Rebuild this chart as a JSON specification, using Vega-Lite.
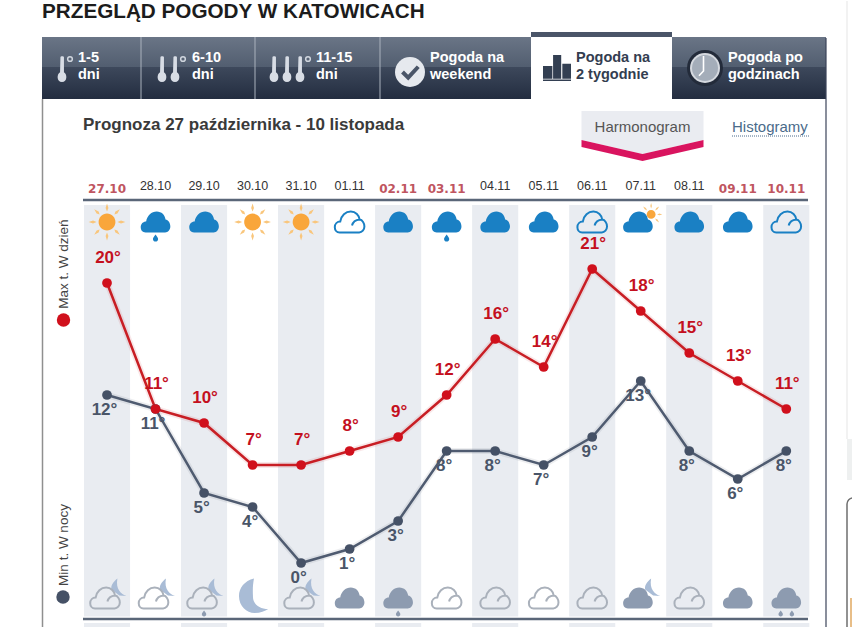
{"$schema":"https://vega.github.io/schema/vega-lite/v6.json","width":852,"height":627,"padding":0,"autosize":{"type":"fit","contains":"padding"},"background":"#ffffff","view":{"stroke":null},
"data":{"values":[{"chrome":1}]},
"datasets":{
"days":[{"date":"27.10","weekend":true},{"date":"28.10","weekend":false},{"date":"29.10","weekend":false},{"date":"30.10","weekend":false},{"date":"31.10","weekend":false},{"date":"01.11","weekend":false},{"date":"02.11","weekend":true},{"date":"03.11","weekend":true},{"date":"04.11","weekend":false},{"date":"05.11","weekend":false},{"date":"06.11","weekend":false},{"date":"07.11","weekend":false},{"date":"08.11","weekend":false},{"date":"09.11","weekend":true},{"date":"10.11","weekend":true}],
"shaded":[{"date":"27.10"},{"date":"29.10"},{"date":"31.10"},{"date":"02.11"},{"date":"04.11"},{"date":"06.11"},{"date":"08.11"},{"date":"10.11"}],
"temps":[{"date":"27.10","series":"Min t. W nocy","temp":12},{"date":"28.10","series":"Min t. W nocy","temp":11},{"date":"29.10","series":"Min t. W nocy","temp":5},{"date":"30.10","series":"Min t. W nocy","temp":4},{"date":"31.10","series":"Min t. W nocy","temp":0},{"date":"01.11","series":"Min t. W nocy","temp":1},{"date":"02.11","series":"Min t. W nocy","temp":3},{"date":"03.11","series":"Min t. W nocy","temp":8},{"date":"04.11","series":"Min t. W nocy","temp":8},{"date":"05.11","series":"Min t. W nocy","temp":7},{"date":"06.11","series":"Min t. W nocy","temp":9},{"date":"07.11","series":"Min t. W nocy","temp":13},{"date":"08.11","series":"Min t. W nocy","temp":8},{"date":"09.11","series":"Min t. W nocy","temp":6},{"date":"10.11","series":"Min t. W nocy","temp":8},
{"date":"27.10","series":"Max t. W dzień","temp":20},{"date":"28.10","series":"Max t. W dzień","temp":11},{"date":"29.10","series":"Max t. W dzień","temp":10},{"date":"30.10","series":"Max t. W dzień","temp":7},{"date":"31.10","series":"Max t. W dzień","temp":7},{"date":"01.11","series":"Max t. W dzień","temp":8},{"date":"02.11","series":"Max t. W dzień","temp":9},{"date":"03.11","series":"Max t. W dzień","temp":12},{"date":"04.11","series":"Max t. W dzień","temp":16},{"date":"05.11","series":"Max t. W dzień","temp":14},{"date":"06.11","series":"Max t. W dzień","temp":21},{"date":"07.11","series":"Max t. W dzień","temp":18},{"date":"08.11","series":"Max t. W dzień","temp":15},{"date":"09.11","series":"Max t. W dzień","temp":13},{"date":"10.11","series":"Max t. W dzień","temp":11}],
"icons":[
{"date":"27.10","panel":"dzień","part":"sun-rays"},{"date":"27.10","panel":"dzień","part":"sun-core"},
{"date":"28.10","panel":"dzień","part":"cloud"},{"date":"28.10","panel":"dzień","part":"drop"},
{"date":"29.10","panel":"dzień","part":"cloud"},
{"date":"30.10","panel":"dzień","part":"sun-rays"},{"date":"30.10","panel":"dzień","part":"sun-core"},
{"date":"31.10","panel":"dzień","part":"sun-rays"},{"date":"31.10","panel":"dzień","part":"sun-core"},
{"date":"02.11","panel":"dzień","part":"cloud"},
{"date":"03.11","panel":"dzień","part":"cloud"},{"date":"03.11","panel":"dzień","part":"drop"},
{"date":"04.11","panel":"dzień","part":"cloud"},{"date":"05.11","panel":"dzień","part":"cloud"},
{"date":"07.11","panel":"dzień","part":"small-rays"},{"date":"07.11","panel":"dzień","part":"small-core"},{"date":"07.11","panel":"dzień","part":"cloud-left"},
{"date":"08.11","panel":"dzień","part":"cloud"},{"date":"09.11","panel":"dzień","part":"cloud"},
{"date":"27.10","panel":"noc","part":"moon-small"},{"date":"28.10","panel":"noc","part":"moon-small"},
{"date":"29.10","panel":"noc","part":"moon-small"},{"date":"29.10","panel":"noc","part":"n-drop"},
{"date":"30.10","panel":"noc","part":"moon-big"},{"date":"31.10","panel":"noc","part":"moon-small"},
{"date":"01.11","panel":"noc","part":"n-cloud"},
{"date":"02.11","panel":"noc","part":"n-cloud"},{"date":"02.11","panel":"noc","part":"n-drop"},
{"date":"07.11","panel":"noc","part":"moon-small"},{"date":"07.11","panel":"noc","part":"n-cloud-left"},
{"date":"09.11","panel":"noc","part":"n-cloud"},
{"date":"10.11","panel":"noc","part":"n-cloud"},{"date":"10.11","panel":"noc","part":"n-drops"}],
"outlines":[
{"date":"01.11","panel":"dzień","part":"line"},{"date":"06.11","panel":"dzień","part":"line"},{"date":"10.11","panel":"dzień","part":"line"},
{"date":"27.10","panel":"noc","part":"n-line-left"},{"date":"28.10","panel":"noc","part":"n-line-left"},{"date":"29.10","panel":"noc","part":"n-line-left"},{"date":"31.10","panel":"noc","part":"n-line-left"},
{"date":"03.11","panel":"noc","part":"n-line"},{"date":"04.11","panel":"noc","part":"n-line"},{"date":"05.11","panel":"noc","part":"n-line"},{"date":"06.11","panel":"noc","part":"n-line"},{"date":"08.11","panel":"noc","part":"n-line"}]
},
"resolve":{"scale":{"y":"independent","shape":"independent","fill":"independent","stroke":"independent"}},
"layer":[
{"mark":{"type":"text","align":"left","font":"Liberation Sans","fontWeight":"bold","fontSize":20.7,"fill":"#1c1c1c"},"encoding":{"x":{"value":42},"y":{"value":11},"text":{"value":"PRZEGLĄD POGODY W KATOWICACH"}}},
{"mark":{"type":"rect","fill":{"gradient":"linear","x1":0,"y1":0,"x2":0,"y2":1,"stops":[{"offset":0,"color":"#6a7586"},{"offset":0.48,"color":"#525e70"},{"offset":0.49,"color":"#3d485b"},{"offset":1,"color":"#232d40"}]}},"encoding":{"x":{"value":42},"x2":{"value":826},"y":{"value":36},"y2":{"value":98}}},
{"mark":{"type":"rule","stroke":"#aab2bd","strokeWidth":1},"encoding":{"x":{"value":141},"y":{"value":36},"y2":{"value":98}}},
{"mark":{"type":"rule","stroke":"#aab2bd","strokeWidth":1},"encoding":{"x":{"value":255},"y":{"value":36},"y2":{"value":98}}},
{"mark":{"type":"rule","stroke":"#aab2bd","strokeWidth":1},"encoding":{"x":{"value":380},"y":{"value":36},"y2":{"value":98}}},
{"mark":{"type":"rect","fill":"#ffffff"},"encoding":{"x":{"value":531},"x2":{"value":672},"y":{"value":36},"y2":{"value":99}}},
{"mark":{"type":"rect","fill":"#4a5568"},"encoding":{"x":{"value":531},"x2":{"value":672},"y":{"value":31},"y2":{"value":36}}},
{"mark":{"type":"rule","stroke":"#8f8f8f","strokeWidth":1.5},"encoding":{"x":{"value":42.5},"y":{"value":98},"y2":{"value":627}}},
{"mark":{"type":"rule","stroke":"#3b4459","strokeWidth":1.2},"encoding":{"x":{"value":826},"y":{"value":37},"y2":{"value":627}}},
{"mark":{"type":"rule","stroke":"#eeeeee","strokeWidth":1.5},"encoding":{"x":{"value":847},"y":{"value":0},"y2":{"value":438}}},
{"mark":{"type":"rect","fill":"#eef0f0"},"encoding":{"x":{"value":847},"x2":{"value":852},"y":{"value":438},"y2":{"value":479}}},
{"mark":{"type":"rect","fill":"#ffffff","stroke":"#6f6f6f","strokeWidth":1.5,"cornerRadius":6},"encoding":{"x":{"value":847},"x2":{"value":870},"y":{"value":497},"y2":{"value":650}}},
{"mark":{"type":"rule","stroke":"#e0a860","strokeWidth":1.5},"encoding":{"x":{"value":851},"y":{"value":597},"y2":{"value":627}}},

{"mark":{"type":"point","filled":true,"fill":"#d8dde5","stroke":null,"size":676,"opacity":1,"shape":"M-.12,-.9C-.12,-1 .15,-1 .15,-.9L.15,.25C.42,.4 .42,1 0,1C-.42,1 -.42,.4 -.15,.25Z"},"encoding":{"x":{"value":62},"y":{"value":68}}},
{"mark":{"type":"point","filled":true,"fill":"#d8dde5","stroke":null,"size":676,"opacity":1,"shape":"M-.12,-.9C-.12,-1 .15,-1 .15,-.9L.15,.25C.42,.4 .42,1 0,1C-.42,1 -.42,.4 -.15,.25Z"},"encoding":{"x":{"value":162},"y":{"value":68}}},
{"mark":{"type":"point","filled":true,"fill":"#d8dde5","stroke":null,"size":676,"opacity":1,"shape":"M-.12,-.9C-.12,-1 .15,-1 .15,-.9L.15,.25C.42,.4 .42,1 0,1C-.42,1 -.42,.4 -.15,.25Z"},"encoding":{"x":{"value":175},"y":{"value":68}}},
{"mark":{"type":"point","filled":true,"fill":"#d8dde5","stroke":null,"size":676,"opacity":1,"shape":"M-.12,-.9C-.12,-1 .15,-1 .15,-.9L.15,.25C.42,.4 .42,1 0,1C-.42,1 -.42,.4 -.15,.25Z"},"encoding":{"x":{"value":274},"y":{"value":68}}},
{"mark":{"type":"point","filled":true,"fill":"#d8dde5","stroke":null,"size":676,"opacity":1,"shape":"M-.12,-.9C-.12,-1 .15,-1 .15,-.9L.15,.25C.42,.4 .42,1 0,1C-.42,1 -.42,.4 -.15,.25Z"},"encoding":{"x":{"value":287},"y":{"value":68}}},
{"mark":{"type":"point","filled":true,"fill":"#d8dde5","stroke":null,"size":676,"opacity":1,"shape":"M-.12,-.9C-.12,-1 .15,-1 .15,-.9L.15,.25C.42,.4 .42,1 0,1C-.42,1 -.42,.4 -.15,.25Z"},"encoding":{"x":{"value":300},"y":{"value":68}}},
{"mark":{"type":"point","filled":false,"stroke":"#cfd5dd","strokeWidth":1.5,"size":22,"opacity":1,"shape":"circle"},"encoding":{"x":{"value":70},"y":{"value":58}}},
{"mark":{"type":"point","filled":false,"stroke":"#cfd5dd","strokeWidth":1.5,"size":22,"opacity":1,"shape":"circle"},"encoding":{"x":{"value":183},"y":{"value":58}}},
{"mark":{"type":"point","filled":false,"stroke":"#cfd5dd","strokeWidth":1.5,"size":22,"opacity":1,"shape":"circle"},"encoding":{"x":{"value":308},"y":{"value":58}}},
{"mark":{"type":"point","filled":true,"fill":"#e6e9ee","stroke":null,"size":900,"opacity":1,"shape":"circle"},"encoding":{"x":{"value":410},"y":{"value":71}}},
{"mark":{"type":"point","filled":false,"stroke":"#4a5568","strokeWidth":4,"size":900,"opacity":1,"shape":"M-.5,0L-.12,.38L.55,-.35"},"encoding":{"x":{"value":410},"y":{"value":71}}},
{"mark":{"type":"point","filled":true,"fill":"#333f52","stroke":null,"size":784,"opacity":1,"shape":"M-1,-.14L-.33,-.14L-.33,.76L-1,.76Z M-.28,-.93L.3,-.93L.3,.76L-.28,.76Z M.38,-.3L1,-.3L1,.76L.38,.76Z M-1,.82L1,.82L1,.93L-1,.93Z"},"encoding":{"x":{"value":557},"y":{"value":67}}},
{"mark":{"type":"point","filled":true,"fill":"#232b3a","stroke":null,"size":1296,"opacity":1,"shape":"circle"},"encoding":{"x":{"value":705},"y":{"value":67}}},
{"mark":{"type":"point","filled":true,"fill":"#d5d9df","stroke":null,"size":900,"opacity":1,"shape":"circle"},"encoding":{"x":{"value":705},"y":{"value":67}}},
{"mark":{"type":"point","filled":true,"fill":"#a4adb9","stroke":null,"size":676,"opacity":1,"shape":"circle"},"encoding":{"x":{"value":705},"y":{"value":67}}},
{"mark":{"type":"point","filled":false,"stroke":"#ffffff","strokeWidth":1.6,"size":900,"opacity":1,"shape":"M-.1,-.8L-.1,.2L-.4,.52"},"encoding":{"x":{"value":705},"y":{"value":67}}},

{"mark":{"type":"text","align":"left","font":"Liberation Sans","fontWeight":"bold","fontSize":14.5,"fill":"#ffffff","lineBreak":"\n","lineHeight":17},"encoding":{"x":{"value":78},"y":{"value":57},"text":{"value":"1-5\ndni"}}},
{"mark":{"type":"text","align":"left","font":"Liberation Sans","fontWeight":"bold","fontSize":14.5,"fill":"#ffffff","lineBreak":"\n","lineHeight":17},"encoding":{"x":{"value":192},"y":{"value":57},"text":{"value":"6-10\ndni"}}},
{"mark":{"type":"text","align":"left","font":"Liberation Sans","fontWeight":"bold","fontSize":14.5,"fill":"#ffffff","lineBreak":"\n","lineHeight":17},"encoding":{"x":{"value":316},"y":{"value":57},"text":{"value":"11-15\ndni"}}},
{"mark":{"type":"text","align":"left","font":"Liberation Sans","fontWeight":"bold","fontSize":14.5,"fill":"#ffffff","lineBreak":"\n","lineHeight":17},"encoding":{"x":{"value":430},"y":{"value":57},"text":{"value":"Pogoda na\nweekend"}}},
{"mark":{"type":"text","align":"left","font":"Liberation Sans","fontWeight":"bold","fontSize":14.5,"fill":"#333d50","lineBreak":"\n","lineHeight":17},"encoding":{"x":{"value":576},"y":{"value":57},"text":{"value":"Pogoda na\n2 tygodnie"}}},
{"mark":{"type":"text","align":"left","font":"Liberation Sans","fontWeight":"bold","fontSize":14.5,"fill":"#ffffff","lineBreak":"\n","lineHeight":17},"encoding":{"x":{"value":728},"y":{"value":57},"text":{"value":"Pogoda po\ngodzinach"}}},

{"mark":{"type":"text","align":"left","font":"Liberation Sans","fontWeight":"bold","fontSize":17,"fill":"#3a3a3a"},"encoding":{"x":{"value":83},"y":{"value":124},"text":{"value":"Prognoza 27 października - 10 listopada"}}},
{"mark":{"type":"point","filled":true,"fill":"#eaecf1","stroke":null,"size":14884,"opacity":1,"shape":"M-1,-.41L1,-.41L1,.066L0,.295L-1,.066Z"},"encoding":{"x":{"value":642.5},"y":{"value":135}}},
{"mark":{"type":"point","filled":true,"fill":"#d9145f","stroke":null,"size":14884,"opacity":1,"shape":"M-1,.066L0,.295L1,.066L1,.18L0,.41L-1,.18Z"},"encoding":{"x":{"value":642.5},"y":{"value":135}}},
{"mark":{"type":"text","font":"Liberation Sans","fontSize":15,"fill":"#555555"},"encoding":{"x":{"value":642.5},"y":{"value":126},"text":{"value":"Harmonogram"}}},
{"mark":{"type":"text","align":"left","font":"Liberation Sans","fontSize":15,"fill":"#4a6b8a"},"encoding":{"x":{"value":732},"y":{"value":126},"text":{"value":"Histogramy"}}},
{"mark":{"type":"rule","stroke":"#4a6b8a","strokeWidth":1,"strokeDash":[1,1]},"encoding":{"x":{"value":732},"x2":{"value":809},"y":{"value":135}}},

{"data":{"name":"shaded"},"mark":{"type":"rect","fill":"#e9ecf1"},"encoding":{"x":{"field":"date","type":"nominal","axis":null,"scale":{"type":"band","domain":["27.10","28.10","29.10","30.10","31.10","01.11","02.11","03.11","04.11","05.11","06.11","07.11","08.11","09.11","10.11"],"range":[82.75,810.55],"paddingInner":0.05,"paddingOuter":0.025}},"y":{"value":204},"y2":{"value":615.5}}},
{"data":{"name":"shaded"},"mark":{"type":"rect","fill":"#e9ecf1"},"encoding":{"x":{"field":"date","type":"nominal","axis":null},"y":{"value":622},"y2":{"value":627}}},
{"mark":{"type":"rule","stroke":"#5a6678","strokeWidth":2.5},"encoding":{"x":{"value":83},"x2":{"value":808},"y":{"value":199}}},
{"mark":{"type":"rule","stroke":"#5a6678","strokeWidth":2.5},"encoding":{"x":{"value":83},"x2":{"value":808},"y":{"value":618}}},

{"data":{"name":"days"},"transform":[{"filter":"!datum.weekend"}],"mark":{"type":"text","font":"Liberation Sans","fontSize":12.5,"fill":"#333333"},"encoding":{"x":{"field":"date","type":"nominal","axis":null},"y":{"value":185},"text":{"field":"date"}}},
{"data":{"name":"days"},"transform":[{"filter":"datum.weekend"}],"mark":{"type":"text","font":"DejaVu Sans","fontWeight":"bold","fontSize":12,"fill":"#bf5560"},"encoding":{"x":{"field":"date","type":"nominal","axis":null},"y":{"value":187.5},"text":{"field":"date"}}},

{"data":{"name":"icons"},"mark":{"type":"point","filled":true,"size":1600,"opacity":1,"strokeWidth":0},"encoding":{
"x":{"field":"date","type":"nominal","axis":null},
"y":{"field":"panel","type":"nominal","axis":null,"scale":{"type":"point","domain":["dzień","noc"],"range":[221,597],"padding":0}},
"shape":{"field":"part","type":"nominal","legend":null,"scale":{"domain":["sun-rays","sun-core","cloud","cloud-left","drop","small-rays","small-core","n-cloud","n-cloud-left","n-drop","n-drops","moon-small","moon-big"],"range":[
"M0,-.92L.07,-.7L0,-.52L-.07,-.7Z M.92,0L.7,.07L.52,0L.7,-.07Z M0,.92L.07,.7L0,.52L-.07,.7Z M-.92,0L-.7,.07L-.52,0L-.7,-.07Z M.64,-.64L.52,-.42L.37,-.37L.42,-.52Z M.64,.64L.52,.42L.37,.37L.42,.52Z M-.64,.64L-.52,.42L-.37,.37L-.42,.52Z M-.64,-.64L-.52,-.42L-.37,-.37L-.42,-.52Z",
"M0,-.42C.232,-.42 .42,-.232 .42,0C.42,.232 .232,.42 0,.42C-.232,.42 -.42,.232 -.42,0C-.42,-.232 -.232,-.42 0,-.42Z",
"M-.5,.52C-.65,.52 -.74,.4 -.74,.26C-.74,.1 -.62,-.02 -.47,-.02C-.42,-.32 -.2,-.52 .06,-.52C.3,-.52 .48,-.34 .5,-.12C.64,-.1 .74,.06 .74,.22C.74,.38 .62,.52 .48,.52Z",
"M-.64,.52C-.79,.52 -.88,.4 -.88,.26C-.88,.1 -.76,-.02 -.61,-.02C-.56,-.32 -.34,-.52 -.08,-.52C.16,-.52 .34,-.34 .36,-.12C.5,-.1 .6,.06 .6,.22C.6,.38 .48,.52 .34,.52Z",
"M0,.62C.06,.72 .13,.76 .13,.85C.13,.93 .07,.98 0,.98C-.07,.98 -.13,.93 -.13,.85C-.13,.76 -.06,.72 0,.62Z",
"M.52,-.95L.56,-.8L.52,-.68L.48,-.8Z M1.08,-.38L.93,-.34L.82,-.38L.93,-.42Z M.92,-.78L.78,-.7L.72,-.58L.84,-.64Z M.92,.02L.84,-.12L.72,-.18L.78,-.06Z M.12,-.78L.26,-.7L.32,-.58L.2,-.64Z",
"M.52,-.6C.64,-.6 .74,-.5 .74,-.38C.74,-.26 .64,-.16 .52,-.16C.4,-.16 .3,-.26 .3,-.38C.3,-.5 .4,-.6 .52,-.6Z",
"M-.5,.52C-.65,.52 -.74,.4 -.74,.26C-.74,.1 -.62,-.02 -.47,-.02C-.42,-.32 -.2,-.52 .06,-.52C.3,-.52 .48,-.34 .5,-.12C.64,-.1 .74,.06 .74,.22C.74,.38 .62,.52 .48,.52Z",
"M-.64,.52C-.79,.52 -.88,.4 -.88,.26C-.88,.1 -.76,-.02 -.61,-.02C-.56,-.32 -.34,-.52 -.08,-.52C.16,-.52 .34,-.34 .36,-.12C.5,-.1 .6,.06 .6,.22C.6,.38 .48,.52 .34,.52Z",
"M0,.62C.05,.7 .11,.74 .11,.81C.11,.88 .06,.92 0,.92C-.06,.92 -.11,.88 -.11,.81C-.11,.74 -.05,.7 0,.62Z",
"M-.28,.62C-.23,.7 -.17,.74 -.17,.81C-.17,.88 -.22,.92 -.28,.92C-.34,.92 -.39,.88 -.39,.81C-.39,.74 -.33,.7 -.28,.62Z M.28,.62C.33,.7 .39,.74 .39,.81C.39,.88 .34,.92 .28,.92C.22,.92 .17,.88 .17,.81C.17,.74 .23,.7 .28,.62Z",
"M.52,-.98C.3,-.8 .18,-.62 .22,-.42L.62,-.12L.98,-.1C.7,-.2 .42,-.45 .52,-.98Z",
"M.07,-.97C-.4,-.85 -.68,-.5 -.68,-.1C-.68,.4 -.3,.75 .1,.75C.4,.75 .62,.65 .78,.55C.35,.55 0,.3 .02,-.1C0,-.45 .02,-.7 .07,-.97Z"]}},
"fill":{"field":"part","type":"nominal","legend":null,"scale":{"domain":["sun-rays","sun-core","cloud","cloud-left","drop","small-rays","small-core","n-cloud","n-cloud-left","n-drop","n-drops","moon-small","moon-big"],"range":["#f9c67c","#f9a63b","#1a80c4","#1a80c4","#1a80c4","#f9c67c","#f9a63b","#8d9bb0","#8d9bb0","#8d9bb0","#8d9bb0","#a9bcd6","#a9bcd6"]}}}},
{"data":{"name":"outlines"},"mark":{"type":"point","filled":false,"size":1600,"opacity":1,"strokeWidth":2},"encoding":{
"x":{"field":"date","type":"nominal","axis":null},
"y":{"field":"panel","type":"nominal","axis":null,"scale":{"type":"point","domain":["dzień","noc"],"range":[221,597],"padding":0}},
"shape":{"field":"part","type":"nominal","legend":null,"scale":{"domain":["line","n-line","n-line-left"],"range":[
"M-.5,.52C-.65,.52 -.74,.4 -.74,.26C-.74,.1 -.62,-.02 -.47,-.02C-.42,-.32 -.2,-.52 .06,-.52C.3,-.52 .48,-.34 .5,-.12C.64,-.1 .74,.06 .74,.22C.74,.38 .62,.52 .48,.52Z M.5,-.12C.32,-.1 .16,.02 .12,.18",
"M-.5,.52C-.65,.52 -.74,.4 -.74,.26C-.74,.1 -.62,-.02 -.47,-.02C-.42,-.32 -.2,-.52 .06,-.52C.3,-.52 .48,-.34 .5,-.12C.64,-.1 .74,.06 .74,.22C.74,.38 .62,.52 .48,.52Z M.5,-.12C.32,-.1 .16,.02 .12,.18",
"M-.6,.52C-.75,.52 -.84,.4 -.84,.26C-.84,.1 -.72,-.02 -.57,-.02C-.52,-.32 -.3,-.52 -.04,-.52C.2,-.52 .38,-.34 .4,-.12C.54,-.1 .64,.06 .64,.22C.64,.38 .52,.52 .38,.52Z M.4,-.12C.22,-.1 .06,.02 .02,.18"]}},
"stroke":{"field":"part","type":"nominal","legend":null,"scale":{"domain":["line","n-line","n-line-left"],"range":["#1a80c4","#aab1bb","#aab1bb"]}}}},

{"data":{"name":"temps"},"mark":{"type":"line","strokeWidth":6,"opacity":0.1,"interpolate":"linear"},"encoding":{"x":{"field":"date","type":"nominal","axis":null},"y":{"field":"temp","type":"quantitative","axis":null,"scale":{"domain":[-4.643,40.143],"range":[627,0],"nice":false,"zero":false}},"stroke":{"field":"series","type":"nominal","legend":null,"scale":{"domain":["Max t. W dzień","Min t. W nocy"],"range":["#c81e24","#4f5b70"]}}}},
{"data":{"name":"temps"},"mark":{"type":"line","strokeWidth":2.5,"interpolate":"linear"},"encoding":{"x":{"field":"date","type":"nominal","axis":null},"y":{"field":"temp","type":"quantitative","axis":null,"scale":{"domain":[-4.643,40.143],"range":[627,0],"nice":false,"zero":false}},"stroke":{"field":"series","type":"nominal","legend":null,"scale":{"domain":["Max t. W dzień","Min t. W nocy"],"range":["#c81e24","#4f5b70"]}}}},
{"data":{"name":"temps"},"mark":{"type":"point","filled":true,"size":95,"opacity":1,"strokeWidth":0},"encoding":{"x":{"field":"date","type":"nominal","axis":null},"y":{"field":"temp","type":"quantitative","axis":null,"scale":{"domain":[-4.643,40.143],"range":[627,0],"nice":false,"zero":false}},"fill":{"field":"series","type":"nominal","legend":null,"scale":{"domain":["Max t. W dzień","Min t. W nocy"],"range":["#d0101c","#455166"]}}}},
{"data":{"name":"temps"},"transform":[{"filter":"datum.series === 'Max t. W dzień'"},{"calculate":"datum.temp + '°'","as":"label"}],"mark":{"type":"text","font":"Liberation Sans","fontWeight":"bold","fontSize":17,"fill":"#c4101e","dy":-25,"dx":1},"encoding":{"x":{"field":"date","type":"nominal","axis":null},"y":{"field":"temp","type":"quantitative","axis":null,"scale":{"domain":[-4.643,40.143],"range":[627,0],"nice":false,"zero":false}},"text":{"field":"label"}}},
{"data":{"name":"temps"},"transform":[{"filter":"datum.series === 'Min t. W nocy'"},{"calculate":"datum.temp + '°'","as":"label"}],"mark":{"type":"text","font":"Liberation Sans","fontWeight":"bold","fontSize":17,"fill":"#4a5568","dy":15.5,"dx":-2.5},"encoding":{"x":{"field":"date","type":"nominal","axis":null},"y":{"field":"temp","type":"quantitative","axis":null,"scale":{"domain":[-4.643,40.143],"range":[627,0],"nice":false,"zero":false}},"text":{"field":"label"}}},

{"mark":{"type":"text","font":"Liberation Sans","fontSize":13.5,"fill":"#444444","angle":270},"encoding":{"x":{"value":64},"y":{"value":263},"text":{"value":"Max t. W dzień"}}},
{"mark":{"type":"text","font":"Liberation Sans","fontSize":13.5,"fill":"#444444","angle":270},"encoding":{"x":{"value":64},"y":{"value":544},"text":{"value":"Min t. W nocy"}}},
{"mark":{"type":"point","filled":true,"fill":"#d0101c","stroke":null,"size":180,"opacity":1,"shape":"circle"},"encoding":{"x":{"value":63.5},"y":{"value":319}}},
{"mark":{"type":"point","filled":true,"fill":"#455166","stroke":null,"size":180,"opacity":1,"shape":"circle"},"encoding":{"x":{"value":63},"y":{"value":596}}}
],
"config":{"style":{"cell":{"stroke":null}}}
}
